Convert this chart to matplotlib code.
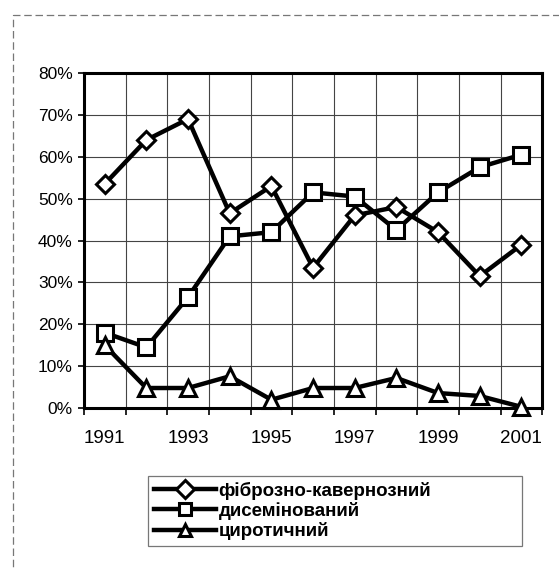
import matplotlib.pyplot as plt
import numpy as np
from matplotlib.patches import Rectangle

years = [1991, 1992, 1993, 1994, 1995, 1996, 1997, 1998, 1999, 2000, 2001]
fibro_cavern = [53.5, 64, 69, 46.5, 53, 33.5, 46, 48, 42, 31.5, 39]
disseminated = [18, 14.5, 26.5, 41, 42, 51.5, 50.5, 42.5, 51.5, 57.5, 60.5]
cirrhotic = [15, 4.8, 4.8, 7.6, 2, 4.8, 4.8, 7.2, 3.6, 2.9, 0.3]
series_names = ["фіброзно-кавернозний", "дисемінований", "циротичний"]
year_labels = ["1991", "1993", "1995", "1997", "1999", "2001"]

plt.rcParams["font.family"] = ["Liberation Sans", "DejaVu Sans"]

fig = plt.figure(figsize=(5.59, 5.70), dpi=100)
ax = fig.add_axes([0.150, 0.284, 0.820, 0.588])

x = np.arange(len(years))
style = dict(color="black", linewidth=3.2, markerfacecolor="white",
             markeredgecolor="black", markeredgewidth=2.2, clip_on=False, zorder=3)
ax.plot(x, fibro_cavern, marker="D", markersize=9.5, label=series_names[0], **style)
ax.plot(x, disseminated, marker="s", markersize=12, label=series_names[1], **style)
ax.plot(x, cirrhotic, marker="^", markersize=12, label=series_names[2], **style)

ax.set_xlim(-0.5, len(years) - 0.5)
ax.set_ylim(0, 80)
ax.set_yticks(np.arange(0, 81, 10))
ax.set_yticklabels([f"{v}%" for v in range(0, 81, 10)], fontsize=12.5)
ax.set_xticks(x[::2])
ax.set_xticklabels(year_labels, fontsize=13.5)
ax.set_xticks(np.arange(-0.5, len(years), 1.0), minor=True)
ax.tick_params(axis="x", which="major", length=0, pad=16)
ax.tick_params(axis="x", which="minor", length=5, width=1.2, direction="out")
ax.tick_params(axis="y", length=4, width=1.2, pad=4)

ax.grid(axis="y", which="major", color="#444444", linewidth=0.8)
ax.grid(axis="x", which="minor", color="#444444", linewidth=0.8)
ax.set_axisbelow(True)
for sp in ax.spines.values():
    sp.set_linewidth(2.2)
    sp.set_color("black")

leg = fig.legend(loc="upper left", bbox_to_anchor=(0.265, 0.165, 0.669, 0.0),
                 mode="expand", frameon=True, fancybox=False, handlelength=3.3,
                 handletextpad=0.15, borderpad=0.3, borderaxespad=0,
                 labelspacing=0.12, prop={"size": 13.5, "weight": "bold"})
leg.get_frame().set_edgecolor("#555555")
leg.get_frame().set_linewidth(0.9)
for line in leg.get_lines():
    line.set_markersize(9)

fig.patches.append(Rectangle((0.023, -0.05), 1.2, 1.024, transform=fig.transFigure,
                             fill=False, edgecolor="#777777", linewidth=0.9,
                             linestyle=(0, (6, 3))))

fig.savefig("out.png", dpi=100)
